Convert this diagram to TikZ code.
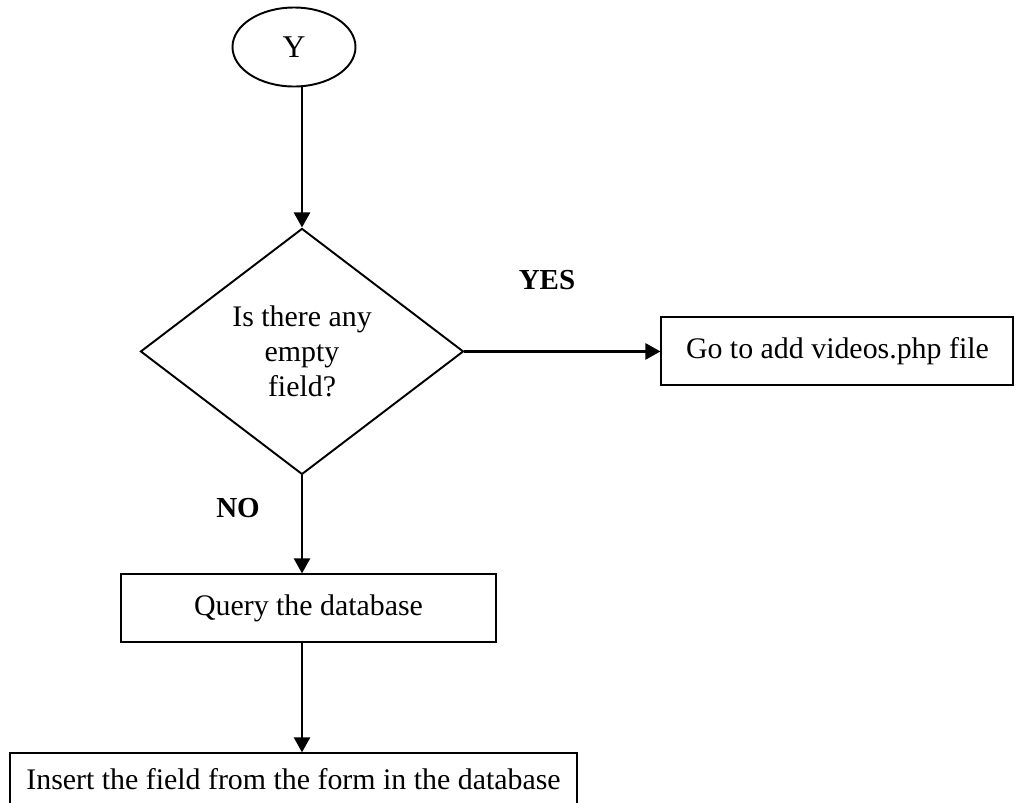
\documentclass[tikz,border=0pt]{standalone}
\usepackage{fontspec}
\setmainfont{Liberation Serif}
\usetikzlibrary{arrows.meta,positioning,shapes.geometric}
\tikzset{
    %Define standard arrow tip
    >={Triangle[length=0.3cm,width=0.32cm]},
    %Define style for boxes
    process/.style={
           rectangle,
           draw=black, line width=1.1pt,
           minimum height=1.36cm,
           inner sep=0pt,
           font=\fontsize{17}{20}\selectfont,
           text centered},
    decision/.style={
           diamond,
           draw=black, line width=1.1pt,
           minimum width=6.46cm,
           minimum height=4.92cm,
           inner sep=0pt,
           align=center,
           font=\fontsize{17}{20}\selectfont},
    terminal/.style={
           ellipse,
           draw=black, line width=1.1pt,
           minimum width=2.46cm,
           minimum height=1.58cm,
           inner sep=0pt,
           font=\fontsize{18}{20}\selectfont},
    % Define arrow style
    pil/.style={
           ->,
           line width=1.4pt},
    answer/.style={font=\bfseries\fontsize{16.5}{19}\selectfont}
}
\begin{document}
\begin{tikzpicture}
\useasboundingbox (0,0) rectangle (20.44,-16.04);
\node[terminal](start) at (5.88,-0.94){Y};
\node[decision, below=2.8cm of start, xshift=0.16cm](empty){Is there any\\empty\\field?};
\node[process, right=3.92cm of empty, minimum width=7.04cm](add){Go to add videos.php file};
\node[process, below=1.96cm of empty, xshift=0.13cm, minimum width=7.5cm](query){Query the database};
\node[process, below=2.18cm of query, xshift=-0.3cm, minimum width=11.34cm, minimum height=1.04cm](insert){Insert the field from the form in the database};
\node[answer] (yes) at (10.94,-5.6){YES};
\node[answer] (no) at (4.76,-10.16){NO};
\draw[pil] (start.south -| empty.north) -- (empty.north);
\draw[pil] (empty.east) -- (add.west);
\draw[pil] (empty.south) -- (query.north -| empty.south);
\draw[pil] (query.south -| empty.south) -- (insert.north -| empty.south);
\end{tikzpicture}
\end{document}
